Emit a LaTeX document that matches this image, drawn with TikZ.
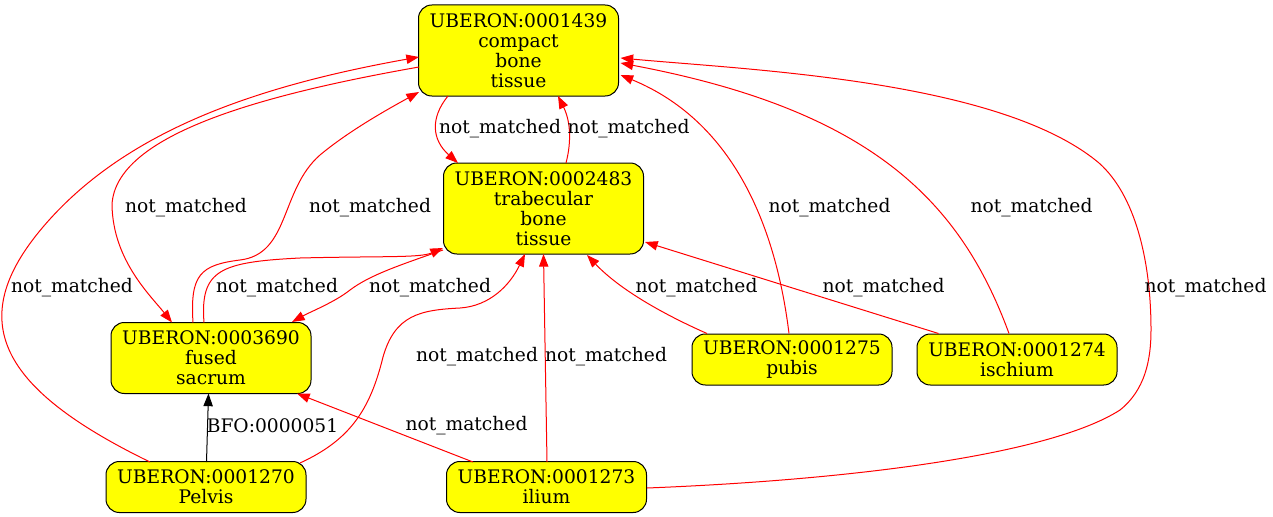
\documentclass[tikz,border=0pt]{standalone}
\usepackage{fontspec}
\setmainfont{DejaVu Serif}
\usetikzlibrary{arrows.meta}

\definecolor{termyellow}{RGB}{255,255,0}
\definecolor{relred}{RGB}{255,0,0}

\tikzset{
  term/.style={draw=black, fill=termyellow, rounded corners=10pt, align=center,
    minimum width=150pt, inner sep=2pt, line width=0.75pt,
    font=\fontsize{14pt}{15pt}\selectfont},
  rel/.style={draw=relred, line width=0.75pt, -{Triangle[length=9.5pt,width=7pt]}},
  isa/.style={rel, draw=black},
  lbl/.style={inner sep=0pt, font=\fontsize{14pt}{15pt}\selectfont},
}

\begin{document}
\begin{tikzpicture}[x=0.75pt, y=-0.75pt]
  \useasboundingbox (0,0) rectangle (1273,517);

  % Define nodes
  \node[term, minimum height=68.25pt] (compact)    at (518.5,50.5)  {UBERON:0001439\\compact\\bone\\tissue};
  \node[term, minimum height=68.25pt] (trabecular) at (543.5,208.5) {UBERON:0002483\\trabecular\\bone\\tissue};
  \node[term, minimum height=53.25pt] (sacrum)     at (211,358)     {UBERON:0003690\\fused\\sacrum};
  \node[term, minimum height=38.25pt] (pelvis)     at (206,487)     {UBERON:0001270\\Pelvis};
  \node[term, minimum height=38.25pt] (ilium)      at (546.5,487)   {UBERON:0001273\\ilium};
  \node[term, minimum height=38.25pt] (pubis)      at (792,359.5)   {UBERON:0001275\\pubis};
  \node[term, minimum height=38.25pt] (ischium)    at (1017,359.5)  {UBERON:0001274\\ischium};

  % Connect the nodes
  \draw[rel] ([shift={(-99.5,16.5)}]compact.center) .. controls (260,95) and (115,135) .. (112,205)
    .. controls (113,260) and (150,295) .. ([shift={(-39,-35.5)}]sacrum.center);
  \draw[rel] ([shift={(-56,-25)}]pelvis.center) .. controls (0,389) and (-37,321) .. (43,227)
    .. controls (123,133) and (251,87) .. ([shift={(-99.5,6.5)}]compact.center);
  \draw[rel] ([shift={(-18,-35.5)}]sacrum.center) .. controls (190,275) and (200,265) .. (240,260)
    .. controls (290,254) and (280,190) .. (320,155)
    .. controls (350,130) and (390,108) .. ([shift={(-99.5,41.5)}]compact.center);
  \draw[rel] ([shift={(-7,-35.5)}]sacrum.center) .. controls (200,270) and (220,262) .. (300,258)
    .. controls (380,256) and (420,258) .. ([shift={(-100.5,39.5)}]trabecular.center);
  \draw[rel] ([shift={(-100.5,41.5)}]trabecular.center) .. controls (400,265) and (370,275) .. (350,290)
    .. controls (335,302) and (310,312) .. ([shift={(81,-36)}]sacrum.center);
  \draw[rel] ([shift={(-70.5,45.5)}]compact.center) .. controls (430,118) and (432,140) .. ([shift={(-85.5,-45.5)}]trabecular.center);
  \draw[rel] ([shift={(22.5,-45.5)}]trabecular.center) .. controls (572,140) and (570,120) .. ([shift={(39.5,45.5)}]compact.center);
  \draw[rel] ([shift={(94,-24)}]pelvis.center) .. controls (350,440) and (370,410) .. (383,357)
    .. controls (395,315) and (420,310) .. (460,308)
    .. controls (490,306) and (510,285) .. ([shift={(-18.5,45.5)}]trabecular.center);
  \draw[rel] ([shift={(0.5,-25)}]ilium.center) -- ([shift={(0,45.5)}]trabecular.center);
  \draw[rel] ([shift={(-73.5,-25)}]ilium.center) -- ([shift={(86,35.5)}]sacrum.center);
  \draw[isa] ([shift={(0.5,-25)}]pelvis.center) -- ([shift={(-2.5,35.5)}]sacrum.center);
  \draw[rel] ([shift={(-85,-26)}]pubis.center) .. controls (665,315) and (620,290) .. ([shift={(43.5,46.5)}]trabecular.center);
  \draw[rel] ([shift={(-3,-26)}]pubis.center) .. controls (775,220) and (730,120) .. ([shift={(102,24.5)}]compact.center);
  \draw[rel] ([shift={(-78.5,-26)}]ischium.center) -- ([shift={(101.5,33.5)}]trabecular.center);
  \draw[rel] ([shift={(-8,-26)}]ischium.center) .. controls (960,200) and (870,110) .. ([shift={(102,12.5)}]compact.center);
  \draw[rel] ([shift={(100.5,1)}]ilium.center) .. controls (850,480) and (1050,455) .. (1120,410)
    .. controls (1145,390) and (1151,360) .. (1151,330)
    .. controls (1151,260) and (1135,195) .. (1099,163)
    .. controls (1000,80) and (750,70) .. ([shift={(102,7.5)}]compact.center);

  % Edge labels
  \node[lbl] (lcs) at (186,208)   {not\_matched};
  \node[lbl] (lpc) at (72,288)    {not\_matched};
  \node[lbl] (lsc) at (370,208)   {not\_matched};
  \node[lbl] (lst) at (277,288)   {not\_matched};
  \node[lbl] (lts) at (430,288)   {not\_matched};
  \node[lbl] (lct) at (500,129)   {not\_matched};
  \node[lbl] (ltc) at (628.5,129) {not\_matched};
  \node[lbl] (lpt) at (477,357)   {not\_matched};
  \node[lbl] (lit) at (606,357)   {not\_matched};
  \node[lbl] (lis) at (466.5,426) {not\_matched};
  \node[lbl] (lps) at (272.5,426) {BFO:0000051};
  \node[lbl] (lbt) at (696.5,288) {not\_matched};
  \node[lbl] (lqt) at (883.5,288) {not\_matched};
  \node[lbl] (lbc) at (829.5,208) {not\_matched};
  \node[lbl] (lqc) at (1031.5,208) {not\_matched};
  \node[lbl] (lic) at (1205.5,288) {not\_matched};

\end{tikzpicture}
\end{document}
